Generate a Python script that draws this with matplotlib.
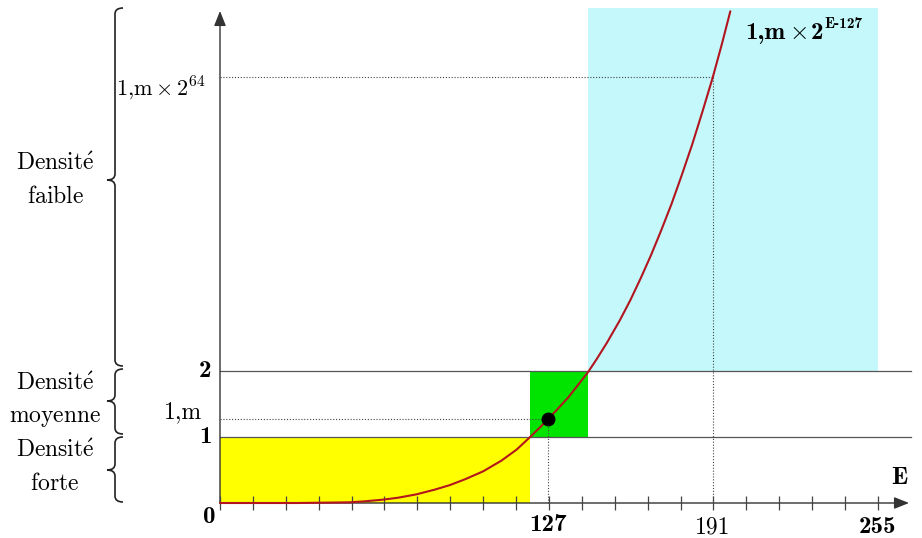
import matplotlib
matplotlib.use("Agg")
import matplotlib.pyplot as plt
from matplotlib.patches import Rectangle, PathPatch
from matplotlib.path import Path
import numpy as np

plt.rcParams['mathtext.fontset'] = 'cm'
plt.rcParams['font.family'] = ['DejaVu Serif']

# ---------------- data ----------------
curve_E = [0, 30, 50, 56, 63, 69, 76, 83, 89, 95, 102, 109, 115, 120.2, 124, 127, 131, 135, 139,
           142.6, 146, 150, 155, 159, 163, 167, 171, 175, 179, 183, 187, 191, 194.5, 197.8]
curve_y = [0, 0, 0.01, 0.025, 0.05, 0.08, 0.13, 0.20, 0.27, 0.36, 0.48, 0.64, 0.81, 1.0, 1.145,
           1.265, 1.43, 1.60, 1.80, 1.98, 2.18, 2.43, 2.77, 3.07, 3.40, 3.75, 4.13, 4.53, 4.97,
           5.43, 5.93, 6.45, 6.95, 7.45]

point_E = 127          # exponent of the marked value
point_m = 1.27         # value 1,m
big_E = 191            # exponent for 1,m x 2^64
big_level = 6.45       # schematic level of 1,m x 2^64

x_tick_vals = [0, 127, 191, 255]
x_tick_labels = ['0', '127', '191', '255']
x_tick_bold = [True, True, False, True]
n_minor = 20
E_max = 255

y_levels = [1, 2]
y_labels = ['1', '2']

# density regions
region_E0 = [0, 120.2, 142.6]
region_E1 = [120.2, 142.6, 255]
region_y0 = [0, 1, 2]
region_y1 = [1, 2, 7.5]
region_col = ['#ffff00', '#00e400', '#c4f8fa']

density_text = [(r'$\mathrm{Densit\acute{e}}$', r'$\mathrm{faible}$'),
                (r'$\mathrm{Densit\acute{e}}$', r'$\mathrm{moyenne}$'),
                (r'$\mathrm{Densit\acute{e}}$', r'$\mathrm{forte}$')]

# ---------------- figure ----------------
W, H = 922, 538
fig = plt.figure(figsize=(W / 100, H / 100), dpi=100)
ax = fig.add_axes([0, 0, 1, 1])
ax.axis('off')
X0, Y0, SX, SY = 220, 503, 2.58, 66.0   # pixel origin and scale
ax.set_xlim(-X0 / SX, (W - X0) / SX)
ax.set_ylim(-(H - Y0) / SY, Y0 / SY)

def fx(px):
    return (px - X0) / SX

def fy(py):
    return (Y0 - py) / SY

def pf(x, y):
    return (x / W, 1 - y / H)

BOLD = dict(family='cmb10')
REG = dict(family='cmr10')
fs = 16
fsb = 18

# regions
for e0, e1, y0, y1, c in zip(region_E0, region_E1, region_y0, region_y1, region_col):
    ax.add_patch(Rectangle((e0, y0), e1 - e0, y1 - y0, facecolor=c, edgecolor='none', zorder=1))

# level lines
for lv in y_levels:
    ax.plot([0, fx(911)], [lv, lv], color='#555555', lw=0.9, zorder=2)

# dotted guides
dot = (0, (1, 1.6))
ax.plot([0, point_E], [point_m, point_m], color='#444444', lw=0.8, ls=dot, zorder=2)
ax.plot([point_E, point_E], [0, point_m], color='#444444', lw=0.8, ls=dot, zorder=2)
ax.plot([0, big_E], [big_level, big_level], color='#444444', lw=0.8, ls=dot, zorder=2)
ax.plot([big_E, big_E], [0, big_level], color='#444444', lw=0.8, ls=dot, zorder=2)

# axes with arrows
arrow = dict(arrowstyle='-|>,head_length=0.75,head_width=0.3', color='#333333', lw=1.0,
             shrinkA=0, shrinkB=0, mutation_scale=12)
ax.annotate('', xy=(fx(909), 0), xytext=(0, 0), arrowprops=arrow, zorder=3)
ax.annotate('', xy=(0, fy(11)), xytext=(0, 0), arrowprops=arrow, zorder=3)

# ticks
ticks = np.linspace(0, E_max, n_minor + 1)
ax.vlines(ticks, fy(510), fy(496), color='#444444', lw=0.9, zorder=3)

# curve and point
ax.plot(curve_E, curve_y, color='#b3151f', lw=1.5, zorder=4, solid_capstyle='round',
        solid_joinstyle='round')
ax.plot([point_E], [point_m], 'o', color='black', ms=9, zorder=5)

# x tick labels
x_label_y = [517, 525, 527, 527]
x_label_x = [209, None, None, None]
for v, lab, b, ly, lx in zip(x_tick_vals, x_tick_labels, x_tick_bold, x_label_y, x_label_x):
    xx = fx(lx) if lx is not None else v
    ax.text(xx, fy(ly), lab, ha='center', va='center', zorder=6,
            **(dict(fontsize=fsb, **BOLD) if b else dict(fontsize=fs + 1, **REG)))

# y labels
for lv, lab in zip(y_levels, y_labels):
    ax.text(fx(205), lv, lab, ha='center', va='center', fontsize=fsb, zorder=6, **BOLD)

ax.text(fx(202), point_m + 0.02, '1,m', ha='right', va='baseline', fontsize=fs + 1, zorder=6, **REG)
ax.text(fx(206), fy(95), r'$\mathrm{1{,}m}\times 2^{64}$', ha='right', va='baseline',
        fontsize=fs, zorder=6)
ax.text(fx(899), fy(478), 'E', ha='center', va='center', fontsize=fsb, zorder=6, **BOLD)

# curve label, built from pieces
renderer = fig.canvas.get_renderer()
parts = [('1,m', dict(fontsize=fsb, **BOLD), 0, 4),
         (r'$\times$', dict(fontsize=fsb), 0, 4),
         ('2', dict(fontsize=fsb, **BOLD), 0, 1),
         ('E-127', dict(fontsize=11, **BOLD), -11, 0)]
xcur = 745
for s, kw, dy, gap in parts:
    t = fig.text(*pf(xcur, 39 + dy), s, ha='left', va='baseline', zorder=6, **kw)
    bb = t.get_window_extent(renderer)
    xcur = bb.x1 + gap

# density labels
baselines = [(170, 203), (390, 422), (457, 490)]
for (t1, t2), (b1, b2) in zip(density_text, baselines):
    fig.text(*pf(55, b1), t1, ha='center', va='baseline', fontsize=17)
    fig.text(*pf(55, b2), t2, ha='center', va='baseline', fontsize=17)

# braces
def brace(y0, y1, yt, xl=115, xe=123, xt=107, r=6):
    pts = [(xe, y0), (xl, y0), (xl, y0 + r), (xl, yt - r), (xl, yt), (xt, yt),
           (xl, yt), (xl, yt + r), (xl, y1 - r), (xl, y1), (xe, y1)]
    codes = [Path.MOVETO, Path.CURVE3, Path.CURVE3, Path.LINETO, Path.CURVE3, Path.CURVE3,
             Path.CURVE3, Path.CURVE3, Path.LINETO, Path.CURVE3, Path.CURVE3]
    verts = [pf(x, y) for x, y in pts]
    fig.patches.append(PathPatch(Path(verts, codes), transform=fig.transFigure,
                                 facecolor='none', edgecolor='#222222', lw=1.2))

brace(8, 366, 180)
brace(369, 434, 401)
brace(437, 502, 470)

fig.savefig('out.png', dpi=100)
